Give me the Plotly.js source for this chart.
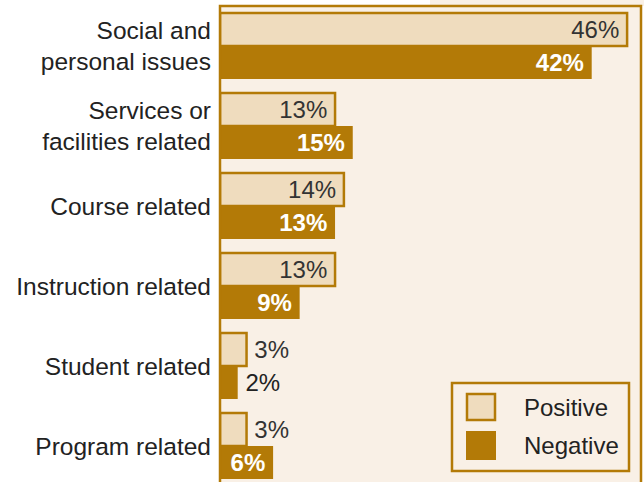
<!DOCTYPE html>
<html>
<head>
<meta charset="utf-8">
<script src="https://cdn.plot.ly/plotly-3.0.1.min.js"></script>
<style>html,body{margin:0;padding:0;background:#fff;}#chart{width:644px;height:482px;}</style>
</head>
<body>
<div id="chart"></div>
<script>
const categories = ["Social and<br>personal issues", "Services or<br>facilities related", "Course related", "Instruction related", "Student related", "Program related"];
const seriesNames = ["Positive", "Negative"];
const positive = [46, 13, 14, 13, 3, 3];
const negative = [42, 15, 13, 9, 2, 6];

const GOLD = "#b37a07";
const LIGHT = "#efdcbe";
const BG = "#f9f0e6";
const FONT = "Liberation Sans, Arial, sans-serif";

const isOut = (x) => x < 5;
const pos = (v) => v.map(x => isOut(x) ? "outside" : "inside");
const labels = (v) => v.map(x => isOut(x) ? "\u2009" + x + "%" : x + "%\u2009");

const traces = [
  {
    type: "bar", orientation: "h", name: seriesNames[0],
    y: categories, x: positive,
    text: labels(positive),
    textposition: pos(positive),
    insidetextanchor: "end",
    textangle: 0, constraintext: "none", cliponaxis: false,
    insidetextfont: {family: FONT, size: 24, color: "#333333"},
    outsidetextfont: {family: FONT, size: 24, color: "#333333"},
    marker: {color: LIGHT, line: {color: GOLD, width: 2.5}},
    hoverinfo: "none"
  },
  {
    type: "bar", orientation: "h", name: seriesNames[1],
    y: categories, x: negative,
    text: labels(negative),
    textposition: pos(negative),
    insidetextanchor: "end",
    textangle: 0, constraintext: "none", cliponaxis: false,
    insidetextfont: {family: FONT, size: 24, color: "#ffffff", weight: "bold"},
    outsidetextfont: {family: FONT, size: 24, color: "#222222"},
    marker: {color: GOLD, line: {color: GOLD, width: 0}},
    hoverinfo: "none"
  }
];

const W = 644, H = 482, L = 220, R = 3, T = 6, B = 0;
const pw = W - L - R, ph = H - T - B;
const px = (x) => (x - L) / pw;
const py = (y) => (H - B - y) / ph;

const shapes = [
  {type: "rect", xref: "paper", yref: "paper", x0: px(430), x1: px(644), y0: 1, y1: py(0), fillcolor: BG, line: {width: 0}, layer: "below"},
  {type: "rect", xref: "paper", yref: "paper", x0: 0, x1: 1, y0: -0.1, y1: 1, fillcolor: "rgba(0,0,0,0)", line: {color: GOLD, width: 2.5}, layer: "above"},
  {type: "rect", xref: "paper", yref: "paper", x0: px(452), x1: px(629), y0: py(471), y1: py(383), fillcolor: BG, line: {color: GOLD, width: 2.5}},
  {type: "rect", xref: "paper", yref: "paper", x0: px(467), x1: px(495), y0: py(420), y1: py(394), fillcolor: LIGHT, line: {color: GOLD, width: 2.5}},
  {type: "rect", xref: "paper", yref: "paper", x0: px(466), x1: px(496), y0: py(460), y1: py(431), fillcolor: GOLD, line: {width: 0}}
];

const annotations = [
  {xref: "paper", yref: "paper", x: px(522), y: py(407), xanchor: "left", yanchor: "middle", showarrow: false, text: seriesNames[0], font: {family: FONT, size: 24, color: "#222222"}},
  {xref: "paper", yref: "paper", x: px(522), y: py(445), xanchor: "left", yanchor: "middle", showarrow: false, text: seriesNames[1], font: {family: FONT, size: 24, color: "#222222"}}
];

const layout = {
  width: W, height: H,
  margin: {l: L, r: R, t: T, b: B, pad: 0},
  paper_bgcolor: "#ffffff",
  plot_bgcolor: BG,
  barmode: "group", bargap: 0.175, bargroupgap: 0,
  showlegend: false,
  xaxis: {range: [0, pw / 8.85], showgrid: false, zeroline: false, showticklabels: false, ticks: "", showline: false, fixedrange: true},
  yaxis: {range: [5.45, -0.5], type: "category", showgrid: false, zeroline: false, ticks: "", showline: false,
          ticklabelstandoff: 8,
          tickfont: {family: FONT, size: 24.5, color: "#222222"}, fixedrange: true},
  shapes: shapes,
  annotations: annotations,
  font: {family: FONT}
};

Plotly.newPlot("chart", traces, layout, {displayModeBar: false, staticPlot: true});
</script>
</body>
</html>
